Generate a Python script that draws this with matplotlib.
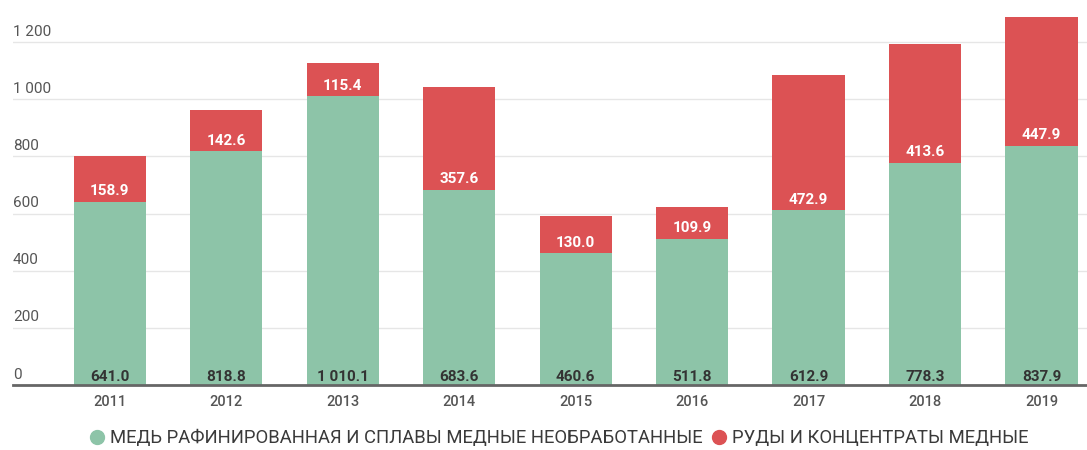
import matplotlib.pyplot as plt
from matplotlib.lines import Line2D
import numpy as np

years = ["2011", "2012", "2013", "2014", "2015", "2016", "2017", "2018", "2019"]
refined = [641.0, 818.8, 1010.1, 683.6, 460.6, 511.8, 612.9, 778.3, 837.9]
ores = [158.9, 142.6, 115.4, 357.6, 130.0, 109.9, 472.9, 413.6, 447.9]
series_names = ["МЕДЬ РАФИНИРОВАННАЯ И СПЛАВЫ МЕДНЫЕ НЕОБРАБОТАННЫЕ",
                "РУДЫ И КОНЦЕНТРАТЫ МЕДНЫЕ"]
yticks = [0, 200, 400, 600, 800, 1000, 1200]

green = "#8dc4a8"
red = "#dc5254"

plt.rcParams['font.family'] = ['Roboto', 'DejaVu Sans']


def fmt(v, dec=1):
    s = f"{v:,.{dec}f}"
    return s.replace(",", " ")


fig = plt.figure(figsize=(10.87, 4.5), dpi=100)
ax = fig.add_axes([13 / 1087, 65 / 450, 1 - 13 / 1087, 383 / 450])

x = np.arange(len(years))
w = 0.62
ax.bar(x, refined, width=w, color=green, zorder=2)
ax.bar(x, ores, width=w, bottom=refined, color=red, zorder=2)

# подписи значений
for i in range(len(years)):
    ax.text(x[i], 28, fmt(refined[i]), ha='center', va='center',
            fontsize=11, fontweight='bold', color='#333333', zorder=3)
    ax.text(x[i], refined[i] + 36, fmt(ores[i]), ha='center', va='center',
            fontsize=11, fontweight='bold', color='white', zorder=3)

ax.set_xlim(-0.83, 8.39)
ax.set_ylim(0, 1340)
ax.set_xticks(x)
ax.set_xticklabels(years, fontsize=10.5, color='#555555', fontweight='medium')
ax.tick_params(axis='x', length=0, pad=7)

ax.set_yticks(yticks)
ax.set_yticklabels([])
ax.tick_params(axis='y', length=0)
for t in yticks:
    ax.text(0, t + 12, fmt(t, 0), transform=ax.get_yaxis_transform(),
            ha='left', va='bottom', fontsize=11, color='#555555')
ax.grid(axis='y', color='#e6e6e6', linewidth=1, zorder=0)

for s in ['top', 'right', 'left']:
    ax.spines[s].set_visible(False)
ax.spines['bottom'].set_color('#666666')
ax.spines['bottom'].set_linewidth(2)
ax.spines['bottom'].set_zorder(4)

handles = [Line2D([], [], marker='o', linestyle='', markersize=10, color=green),
           Line2D([], [], marker='o', linestyle='', markersize=10, color=red)]
fig.legend(handles, series_names, loc='center', bbox_to_anchor=(557 / 1087, 12 / 450),
           ncol=2, frameon=False, fontsize=13.3, handletextpad=0.1,
           columnspacing=0.3, handlelength=1.2, labelcolor='#3a3a3a')

fig.savefig("out.png", dpi=100)
